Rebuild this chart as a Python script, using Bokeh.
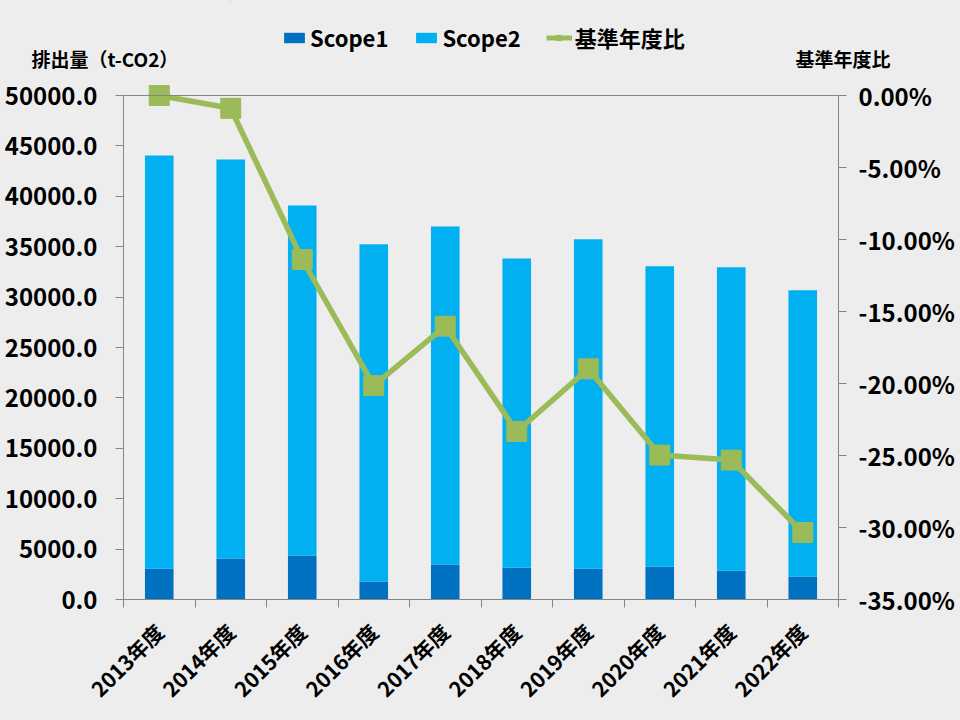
import math
from bokeh.plotting import figure
from bokeh.layouts import column, row
from bokeh.models import (Range1d, LinearAxis, FixedTicker, NumeralTickFormatter,
                          CustomJSTickFormatter, Legend, LegendItem, Label, Span,
                          ColumnDataSource)
from bokeh.embed import file_html
from bokeh.resources import INLINE

# ---- data ----
years = ["2013年度", "2014年度", "2015年度", "2016年度", "2017年度",
         "2018年度", "2019年度", "2020年度", "2021年度", "2022年度"]
scope1 = [3050, 4060, 4360, 1780, 3460, 3150, 3050, 3250, 2850, 2280]
scope2 = [41010, 39600, 34730, 33460, 33550, 30680, 32690, 29800, 30100, 28390]
ratio_pct = [0.0, -0.89, -11.39, -20.15, -16.02, -23.33, -18.98, -24.97, -25.32, -30.35]
left_ticks = [0, 5000, 10000, 15000, 20000, 25000, 30000, 35000, 40000, 45000, 50000]
right_ticks = [-35, -30, -25, -20, -15, -10, -5, 0]
left_title = "排出量（t-CO2）"
right_title = "基準年度比"
series_names = ["Scope1", "Scope2", "基準年度比"]

BG = "#ededed"
AX = "#868686"
C1 = "#0070c0"
C2 = "#00b0f0"
G = "#9bbb59"
FONT = "Noto Sans CJK JP"

TOP_H = 70
W = 960
H = 720
SPLIT_A, SPLIT_B = 230, 740   # header strip split into three pieces

xs = [i + 0.5 for i in range(len(years))]
totals = [a + b for a, b in zip(scope1, scope2)]
src = ColumnDataSource(dict(x=xs, s1=scope1, tot=totals, pct=ratio_pct))


def strip(x0, x1):
    f = figure(width=x1 - x0, height=TOP_H, x_range=Range1d(x0, x1),
               y_range=Range1d(TOP_H, 0), x_axis_type=None, y_axis_type=None,
               output_backend="svg", toolbar_location=None, min_border=0,
               background_fill_color=BG, border_fill_color=BG, outline_line_color=None)
    return f


# ---------- header strip: axis titles + legend ----------
top_l = strip(0, SPLIT_A)
top_m = strip(SPLIT_A, SPLIT_B)
top_r = strip(SPLIT_B, W)

top_l.add_layout(Label(x=31, y=58, text=left_title, text_font=FONT,
                       text_font_style="bold", text_font_size="19px",
                       text_baseline="middle", text_align="left", text_color="#000000"))
top_r.add_layout(Label(x=795, y=58, text=right_title, text_font=FONT,
                       text_font_style="bold", text_font_size="19px",
                       text_baseline="middle", text_align="left", text_color="#000000"))

d1 = top_m.vbar(x=[-100], top=[1], width=1, fill_color=C1, line_color=None)
d2 = top_m.vbar(x=[-100], top=[1], width=1, fill_color=C2, line_color=None)
d3 = top_m.line(x=[-110, -100], y=[1, 1], line_color=G, line_width=5)
d4 = top_m.scatter(x=[-100], y=[1], marker="square", size=12, fill_color=G, line_color=G)
legend = Legend(items=[LegendItem(label=series_names[0], renderers=[d1]),
                       LegendItem(label=series_names[1], renderers=[d2]),
                       LegendItem(label=series_names[2], renderers=[d3, d4])],
                orientation="horizontal", location=(281 - SPLIT_A, 17),
                background_fill_alpha=0, border_line_color=None,
                padding=0, margin=0, spacing=25, label_standoff=3,
                glyph_width=26, glyph_height=13, label_height=24,
                label_text_font=FONT, label_text_font_style="bold",
                label_text_font_size="22px", label_text_color="#000000",
                label_text_baseline="middle")
top_m.add_layout(legend)

# ---------- main chart ----------
FRAME_BOTTOM = 599
Y0_PIX = 95            # pixel row of 50000 / 0.00%
frame_h = FRAME_BOTTOM - TOP_H
ymax = 50000 * frame_h / (FRAME_BOTTOM - Y0_PIX)
pmax = 35 * frame_h / (FRAME_BOTTOM - Y0_PIX) - 35

fig = figure(width=W, height=H - TOP_H, output_backend="svg", toolbar_location=None,
             x_range=Range1d(0, len(years)), y_range=Range1d(0, ymax),
             min_border_left=123, min_border_right=122, min_border_top=0,
             min_border_bottom=121,
             background_fill_color=BG, border_fill_color=BG, outline_line_color=None)
fig.xgrid.visible = False
fig.ygrid.visible = False
fig.extra_y_ranges = {"pct": Range1d(-35, pmax)}

fig.add_layout(Span(location=50000, dimension="width", line_color=AX, line_width=1))

r1 = fig.vbar(x="x", bottom=0, top="s1", width=0.4, source=src,
              fill_color=C1, line_color=None)
r2 = fig.vbar(x="x", bottom="s1", top="tot", width=0.4, source=src,
              fill_color=C2, line_color=None)
rl = fig.line(x="x", y="pct", source=src, y_range_name="pct",
              line_color=G, line_width=5.5)
rm = fig.scatter(x="x", y="pct", source=src, y_range_name="pct", marker="square",
                 size=20, fill_color=G, line_color=G)

# x axis
xa = fig.xaxis[0]
xa.ticker = FixedTicker(ticks=xs, minor_ticks=list(range(len(years) + 1)))
xa.formatter = CustomJSTickFormatter(args=dict(labels=years),
                                     code="return labels[Math.floor(tick)];")
xa.major_tick_line_color = None
xa.minor_tick_line_color = AX
xa.minor_tick_out = 8
xa.minor_tick_in = 0
xa.axis_line_color = AX
xa.major_label_orientation = math.pi / 4
xa.major_label_standoff = 20
xa.major_label_text_font = FONT
xa.major_label_text_font_style = "bold"
xa.major_label_text_font_size = "21px"
xa.major_label_text_color = "#000000"

# left axis
ya = fig.yaxis[0]
ya.ticker = FixedTicker(ticks=left_ticks)
ya.formatter = NumeralTickFormatter(format="0.0")
ya.bounds = (0, 50000)
ya.major_tick_out = 8
ya.major_tick_in = 0
ya.minor_tick_line_color = None
ya.axis_line_color = AX
ya.major_tick_line_color = AX
ya.major_label_standoff = 18
ya.major_label_text_font = FONT
ya.major_label_text_font_style = "bold"
ya.major_label_text_font_size = "24px"
ya.major_label_text_color = "#000000"

# right axis
ra = LinearAxis(y_range_name="pct", ticker=FixedTicker(ticks=right_ticks),
                formatter=CustomJSTickFormatter(code="return tick.toFixed(2) + '%';"),
                bounds=(-35, 0))
ra.major_tick_out = 8
ra.major_tick_in = 0
ra.minor_tick_line_color = None
ra.axis_line_color = AX
ra.major_tick_line_color = AX
ra.major_label_standoff = 12
ra.major_label_text_align = "left"
ra.major_label_text_font = FONT
ra.major_label_text_font_style = "bold"
ra.major_label_text_font_size = "24px"
ra.major_label_text_color = "#000000"
fig.add_layout(ra, "right")

header = row(top_l, top_m, top_r, spacing=0, styles={"background-color": BG})
p = column(header, fig, spacing=0, styles={"background-color": BG})

open("out.html", "w").write(file_html(p, INLINE))
